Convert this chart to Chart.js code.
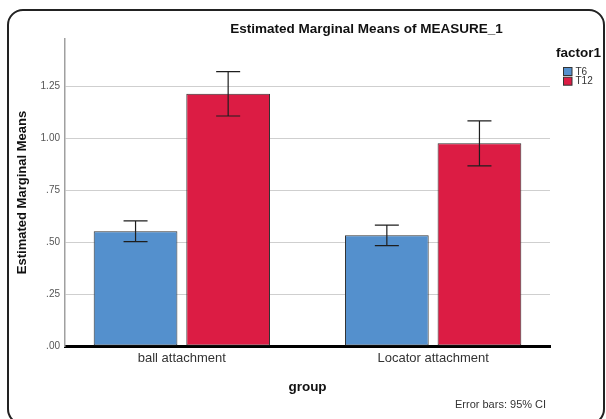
<!DOCTYPE html>
<html>
<head>
<meta charset="utf-8">
<script src="https://cdn.jsdelivr.net/npm/chart.js@4/dist/chart.umd.min.js"></script>
<style>
  html, body { margin: 0; padding: 0; background: #ffffff; }
  #wrap { width: 606px; height: 419px; }
</style>
</head>
<body>
<div id="wrap"><canvas id="c" width="606" height="419"></canvas></div>
<script>
// ---- data ----
const categories = ['ball attachment', 'Locator attachment'];
const seriesNames = ['T6', 'T12'];
const t6Means  = [0.553, 0.533];
const t6Lower  = [0.503, 0.484];
const t6Upper  = [0.603, 0.582];
const t12Means = [1.215, 0.977];
const t12Lower = [1.108, 0.868];
const t12Upper = [1.322, 1.085];
const yTickValues = [0, 0.25, 0.5, 0.75, 1.0, 1.25];
const yTickLabels = ['.00', '.25', '.50', '.75', '1.00', '1.25'];
const chartTitle = 'Estimated Marginal Means of MEASURE_1';
const yTitle = 'Estimated Marginal Means';
const xTitle = 'group';
const legendTitle = 'factor1';
const footNote = 'Error bars: 95% CI';

const FONT = '"Liberation Sans", Arial, Helvetica, sans-serif';
const colors = ['#5490CD', '#DC1C44'];

const lowers = [t6Lower, t12Lower];
const uppers = [t6Upper, t12Upper];

const errorBarPlugin = {
  id: 'errorBars',
  afterDatasetsDraw(chart) {
    const ctx = chart.ctx;
    const yScale = chart.scales.y;
    ctx.save();
    ctx.strokeStyle = '#1e1e1e';
    ctx.lineWidth = 1.2;
    chart.data.datasets.forEach((ds, di) => {
      const meta = chart.getDatasetMeta(di);
      meta.data.forEach((el, i) => {
        const x = el.x;
        const yt = yScale.getPixelForValue(uppers[di][i]);
        const yb = yScale.getPixelForValue(lowers[di][i]);
        const half = 12;
        ctx.beginPath();
        ctx.moveTo(x, yt); ctx.lineTo(x, yb);
        ctx.moveTo(x - half, yt); ctx.lineTo(x + half, yt);
        ctx.moveTo(x - half, yb); ctx.lineTo(x + half, yb);
        ctx.stroke();
      });
    });
    ctx.restore();
  }
};

const decorPlugin = {
  id: 'decor',
  beforeDraw(chart) {
    const ctx = chart.ctx;
    ctx.save();
    ctx.fillStyle = '#ffffff';
    ctx.fillRect(0, 0, chart.width, chart.height);
    ctx.restore();
  },
  afterDraw(chart) {
    const ctx = chart.ctx;
    ctx.save();
    // frame
    ctx.strokeStyle = '#222222';
    ctx.lineWidth = 2;
    ctx.beginPath();
    if (ctx.roundRect) { ctx.roundRect(8, 10, 596, 414, 15); } else { ctx.rect(8, 10, 596, 414); }
    ctx.stroke();
    // title
    ctx.fillStyle = '#111111';
    ctx.font = 'bold 13.5px ' + FONT;
    ctx.textAlign = 'center';
    ctx.textBaseline = 'middle';
    ctx.fillText(chartTitle, 366.5, 29.5);
    // legend
    ctx.textAlign = 'left';
    ctx.font = 'bold 13.5px ' + FONT;
    ctx.fillText(legendTitle, 556, 53.5);
    ctx.font = '10px ' + FONT;
    chart.data.datasets.forEach((ds, i) => {
      const by = 67.5 + i * 9.7;
      ctx.fillStyle = ds.backgroundColor;
      ctx.fillRect(563.5, by, 8.5, 8);
      ctx.strokeStyle = '#333333';
      ctx.lineWidth = 1;
      ctx.strokeRect(563.5, by, 8.5, 8);
      ctx.fillStyle = '#333333';
      ctx.fillText(ds.label, 575.5, by + 4.5);
    });
    // footnote
    ctx.font = '11px ' + FONT;
    ctx.fillStyle = '#333333';
    ctx.fillText(footNote, 455, 405);
    ctx.restore();
  }
};

new Chart(document.getElementById('c'), {
  type: 'bar',
  data: {
    datasets: [
      { label: seriesNames[0], data: t6Means.map((v, i) => ({ x: i, y: v })), backgroundColor: colors[0] },
      { label: seriesNames[1], data: t12Means.map((v, i) => ({ x: i, y: v })), backgroundColor: colors[1] }
    ]
  },
  options: {
    responsive: false,
    animation: false,
    devicePixelRatio: 1,
    layout: { padding: { left: 0, right: 56, top: 39, bottom: 0 } },
    datasets: {
      bar: {
        categoryPercentage: 0.737,
        barPercentage: 0.904,
        borderColor: '#333333',
        borderWidth: 1,
        borderSkipped: false
      }
    },
    plugins: {
      legend: { display: false },
      title: { display: false },
      tooltip: { enabled: false }
    },
    scales: {
      x: {
        type: 'linear',
        offset: false,
        min: -0.465,
        max: 1.465,
        afterFit(scale) { scale.height = 73; },
        afterBuildTicks(scale) { scale.ticks = categories.map((c, i) => ({ value: i })); },
        grid: { display: false, drawTicks: false },
        border: { display: true, color: '#000000', width: 3 },
        ticks: {
          autoSkip: false, maxRotation: 0, padding: 5,
          color: '#333333', font: { family: FONT, size: 13 },
          callback: (v, i) => categories[i]
        },
        title: {
          display: true, text: xTitle, color: '#111111',
          font: { family: FONT, size: 13.5, weight: 'bold' },
          padding: { top: 0, bottom: 24 }
        }
      },
      y: {
        min: 0,
        max: 1.479,
        afterFit(scale) { scale.width = 65; },
        afterBuildTicks(scale) { scale.ticks = yTickValues.map(v => ({ value: v })); },
        grid: { color: '#cfcfcf', lineWidth: 1, drawTicks: false },
        border: { display: true, color: '#a0a0a0', width: 1.5 },
        ticks: {
          padding: 5, color: '#555555', font: { family: FONT, size: 10 },
          callback: (v, i) => yTickLabels[i]
        },
        title: {
          display: true, text: yTitle, color: '#111111',
          font: { family: FONT, size: 13, weight: 'bold' },
          padding: { top: 15, bottom: 0 }
        }
      }
    }
  },
  plugins: [decorPlugin, errorBarPlugin]
});
</script>
</body>
</html>
